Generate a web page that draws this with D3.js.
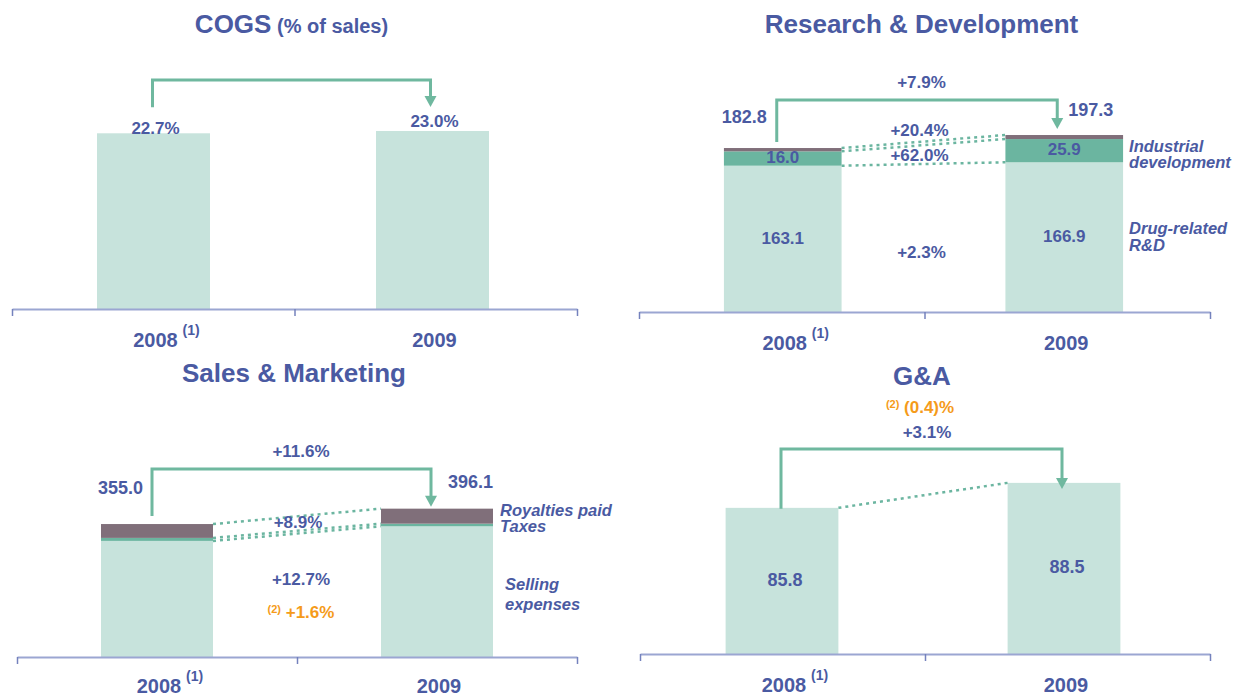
<!DOCTYPE html>
<html>
<head>
<meta charset="utf-8">
<script src="https://cdn.jsdelivr.net/npm/d3@7"></script>
<style>
body { margin: 0; background: #fff; }
svg text { font-family: "Liberation Sans", Arial, sans-serif; font-weight: bold; }
</style>
</head>
<body>
<svg id="chart" width="1235" height="697"></svg>
<script>
// Categories
const years = ["2008", "2009"];
const yearNotes = ["(1)", ""];

// COGS (% of sales)
const cogsPct = [22.7, 23.0];

// Research & Development
const rdDrug = [163.1, 166.9];
const rdIndustrial = [16.0, 25.9];
const rdOther = [3.7, 4.5];
const rdTotal = [182.8, 197.3];
const rdChanges = ["+7.9%", "+20.4%", "+62.0%", "+2.3%"];

// Sales & Marketing
const smSelling = [310.0, 349.0];
const smTaxes = [8.0, 7.0];
const smRoyalties = [37.0, 40.1];
const smTotal = [355.0, 396.1];
const smChanges = ["+11.6%", "+8.9%", "+12.7%"];
const smConstant = "+1.6%";

// G&A
const gaValues = [85.8, 88.5];
const gaChange = "+3.1%";
const gaConstant = "(0.4)%";

// Colours
const textBlue = "#4a5aa2";
const lightBar = "#c7e3dc";
const greenBar = "#6bb5a0";
const mauveBar = "#806f7a";
const arrowGreen = "#6fb89f";
const orange = "#f59b1a";

const svg = d3.select("#chart");

// one panel: axis, stacked bars, dotted links, arrow, title
function drawPanel(p) {
    const g = svg.append("g");

    const x = d3.scaleBand().domain(years).range(p.barRange);
    const y = d3.scaleLinear().domain(p.yDomain).range([p.axisY, p.yTop]).clamp(true);
    const bw = x.bandwidth() * p.barFrac;
    const barX = d => x(d) + (x.bandwidth() - bw) / 2;
    const mid = d => x(d) + x.bandwidth() / 2;

    // build table for the stack
    const table = years.map((yr, i) => {
        const row = { year: yr };
        p.keys.forEach((k, j) => row[k] = p.series[j][i]);
        return row;
    });
    const stacked = d3.stack().keys(p.keys)(table);

    // bars
    g.selectAll(".layer")
        .data(stacked)
        .enter()
        .append("g")
        .attr("fill", (d, i) => p.colors[i])
        .selectAll("rect")
        .data(d => d)
        .enter()
        .append("rect")
        .attr("x", d => barX(d.data.year))
        .attr("y", d => y(d[1]))
        .attr("width", bw)
        .attr("height", d => y(d[0]) - y(d[1]));

    // dotted links between the two bars
    if (p.links) {
        stacked.forEach(layer => {
            g.append("line")
                .attr("x1", barX(years[0]) + bw)
                .attr("y1", y(layer[0][1]))
                .attr("x2", barX(years[1]))
                .attr("y2", y(layer[1][1]))
                .attr("stroke", greenBar)
                .attr("stroke-width", 2.5)
                .attr("stroke-dasharray", "3,4");
        });
    }

    // x axis
    const axisScale = d3.scaleLinear().domain([0, 2]).range([p.x0, p.x1]);
    const axisG = g.append("g")
        .attr("transform", `translate(0, ${p.axisY})`)
        .call(d3.axisBottom(axisScale).tickValues([0, 1, 2]).tickSizeInner(7).tickSizeOuter(0).tickFormat(""));
    axisG.select(".domain").attr("stroke", "#9ba6d2").attr("stroke-width", 2);
    axisG.selectAll(".tick line").attr("stroke", "#7482bd").attr("stroke-width", 1.5);

    // category labels
    const labelDy = p.labelDy || 38;
    years.forEach((yr, i) => {
        g.append("text")
            .attr("x", mid(yr) + 2)
            .attr("y", p.axisY + labelDy)
            .attr("text-anchor", "middle")
            .attr("font-size", 20)
            .attr("fill", textBlue)
            .text(yr);
        if (yearNotes[i]) {
            g.append("text")
                .attr("x", mid(yr) + 29)
                .attr("y", p.axisY + labelDy - 12)
                .attr("font-size", 14)
                .attr("fill", textBlue)
                .text(yearNotes[i]);
        }
    });

    // title
    const title = g.append("text")
        .attr("x", (p.x0 + p.x1) / 2 - 3)
        .attr("y", p.titleY)
        .attr("text-anchor", "middle")
        .attr("fill", textBlue)
        .attr("font-size", 26)
        .text(p.title);
    if (p.subtitle) {
        title.append("tspan").attr("font-size", 20).text(" " + p.subtitle);
    }

    // change arrow
    const totals = years.map((yr, i) => d3.sum(p.series, s => s[i]));
    const ax0 = mid(years[0]) + p.arrow.shift[0];
    const ax1 = mid(years[1]) + p.arrow.shift[1];
    const tipY = y(totals[1]) + p.arrow.tip;
    g.append("path")
        .attr("d", d3.line()([[ax0, y(totals[0]) + p.arrow.start], [ax0, p.arrow.top], [ax1, p.arrow.top], [ax1, tipY - 9]]))
        .attr("fill", "none")
        .attr("stroke", arrowGreen)
        .attr("stroke-width", 3);
    g.append("path")
        .attr("d", d3.line()([[ax1 - 6, tipY - 11], [ax1 + 6, tipY - 11], [ax1, tipY]]) + "Z")
        .attr("fill", arrowGreen);

    return { g, x, y, mid, barX, bw, ax0, ax1, totals, stacked };
}

function label(g, x, y, txt, opts) {
    const o = Object.assign({ size: 17, anchor: "middle", color: textBlue, italic: false }, opts || {});
    return g.append("text")
        .attr("x", x)
        .attr("y", y)
        .attr("text-anchor", o.anchor)
        .attr("font-size", o.size)
        .attr("font-style", o.italic ? "italic" : "normal")
        .attr("fill", o.color)
        .text(txt);
}

// note text like "(2) +1.6%" with a small superscript
function noteLabel(g, x, y, note, txt) {
    const t = g.append("text")
        .attr("x", x)
        .attr("y", y)
        .attr("text-anchor", "middle")
        .attr("fill", orange);
    t.append("tspan").attr("font-size", 11).attr("dy", -5).text(note);
    t.append("tspan").attr("font-size", 17).attr("dy", 5).text(" " + txt);
}

// ---------- COGS ----------
const cogs = drawPanel({
    x0: 12, x1: 577, barRange: [14, 572], axisY: 309, yDomain: [0, 25], yTop: 115.5, barFrac: 0.405,
    keys: ["cogs"], series: [cogsPct], colors: [lightBar], links: false,
    title: "COGS", subtitle: "(% of sales)", titleY: 33,
    arrow: { shift: [-1, -2], top: 80, start: -26, tip: -24 }
});
cogsPct.forEach((v, i) => {
    label(cogs.g, cogs.mid(years[i]) + 2, cogs.y(v) + (i === 0 ? 1 : -4), v.toFixed(1) + "%");
});

// ---------- Research & Development ----------
const rd = drawPanel({
    x0: 639, x1: 1210, barRange: [642, 1205], axisY: 312, yDomain: [0, 200], yTop: 132.6, barFrac: 0.418,
    keys: ["drug", "industrial", "other"], series: [rdDrug, rdIndustrial, rdOther],
    colors: [lightBar, greenBar, mauveBar], links: true,
    title: "Research & Development", titleY: 33,
    arrow: { shift: [-6, -7], top: 100, start: -6, tip: -6 }
});
rdDrug.forEach((v, i) => {
    const s = rd.stacked[0][i];
    label(rd.g, rd.mid(years[i]), (rd.y(s[0]) + rd.y(s[1])) / 2 + 5, v.toFixed(1));
});
rdIndustrial.forEach((v, i) => {
    const s = rd.stacked[1][i];
    label(rd.g, rd.mid(years[i]), (rd.y(s[0]) + rd.y(s[1])) / 2 + 4, v.toFixed(1));
});
label(rd.g, rd.ax0 - 10, rd.y(rdTotal[0]) - 25, rdTotal[0].toFixed(1), { size: 18, anchor: "end" });
label(rd.g, rd.ax1 + 11, rd.y(rdTotal[1]) - 19, rdTotal[1].toFixed(1), { size: 18, anchor: "start" });
const rdMidX = (rd.barX(years[0]) + rd.bw + rd.barX(years[1])) / 2;
label(rd.g, rdMidX - 2, 88, rdChanges[0]);
label(rd.g, rdMidX - 4, 136, rdChanges[1]);
label(rd.g, rdMidX - 4, 161, rdChanges[2]);
label(rd.g, rdMidX - 2, 258, rdChanges[3]);
const rdRight = rd.barX(years[1]) + rd.bw + 6;
label(rd.g, rdRight, 152, "Industrial", { size: 16.5, anchor: "start", italic: true });
label(rd.g, rdRight, 168, "development", { size: 16.5, anchor: "start", italic: true });
label(rd.g, rdRight, 234, "Drug-related", { size: 16.5, anchor: "start", italic: true });
label(rd.g, rdRight, 251, "R&D", { size: 16.5, anchor: "start", italic: true });

// ---------- Sales & Marketing ----------
const sm = drawPanel({
    x0: 17, x1: 577, barRange: [17, 577], axisY: 657, yDomain: [0, 420], yTop: 499.7, barFrac: 0.4,
    keys: ["selling", "taxes", "royalties"], series: [smSelling, smTaxes, smRoyalties],
    colors: [lightBar, greenBar, mauveBar], links: true,
    title: "Sales & Marketing", titleY: 382, labelDy: 36,
    arrow: { shift: [-5, -6], top: 469, start: -8, tip: -2 }
});
label(sm.g, sm.ax0 - 9, sm.y(smTotal[0]) - 30, smTotal[0].toFixed(1), { size: 18, anchor: "end" });
label(sm.g, sm.ax1 + 17, sm.y(smTotal[1]) - 21, smTotal[1].toFixed(1), { size: 18, anchor: "start" });
const smMidX = (sm.barX(years[0]) + sm.bw + sm.barX(years[1])) / 2;
label(sm.g, smMidX + 4, 457, smChanges[0]);
label(sm.g, smMidX + 1, 528, smChanges[1]);
label(sm.g, smMidX + 4, 585, smChanges[2]);
noteLabel(sm.g, smMidX + 4, 618, "(2)", smConstant);
const smRight = sm.barX(years[1]) + sm.bw;
label(sm.g, smRight + 7, 516, "Royalties paid", { size: 16.5, anchor: "start", italic: true });
label(sm.g, smRight + 7, 532, "Taxes", { size: 16.5, anchor: "start", italic: true });
label(sm.g, smRight + 12, 590, "Selling", { size: 16.5, anchor: "start", italic: true });
label(sm.g, smRight + 12, 610, "expenses", { size: 16.5, anchor: "start", italic: true });

// ---------- G&A ----------
const ga = drawPanel({
    x0: 640, x1: 1210, barRange: [641, 1205], axisY: 654, yDomain: [70, 90], yTop: 469, barFrac: 0.4,
    keys: ["ga"], series: [gaValues], colors: [lightBar], links: true,
    title: "G&A", titleY: 385,
    arrow: { shift: [-1, -2], top: 449, start: 1, tip: 6 }
});
gaValues.forEach((v, i) => {
    label(ga.g, ga.mid(years[i]) + 3, (ga.y(v) + ga.y.range()[0]) / 2 + 5, v.toFixed(1), { size: 18 });
});
const gaMidX = (ga.barX(years[0]) + ga.bw + ga.barX(years[1])) / 2;
noteLabel(ga.g, gaMidX - 3, 413, "(2)", gaConstant);
label(ga.g, gaMidX + 4, 438, gaChange);
</script>
</body>
</html>
